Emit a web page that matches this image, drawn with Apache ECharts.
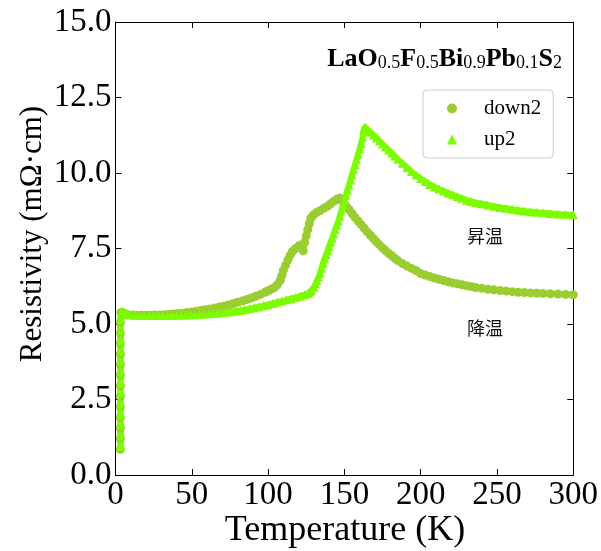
<!DOCTYPE html>
<html>
<head>
<meta charset="utf-8">
<script src="https://cdn.jsdelivr.net/npm/echarts@6/dist/echarts.min.js"></script>
<style>
  html, body { margin: 0; padding: 0; background: #fff; }
  #chart { width: 601px; height: 551px; }
</style>
</head>
<body>
<div id="chart"></div>
<script>
// cooling run (circles), [T (K), rho (mOhm cm)]
const down2 = [
  [3.2, 0.85], [3.2, 1.2], [3.2, 1.55], [3.2, 1.9], [3.2, 2.25], [3.2, 2.6], [3.2, 2.95],
  [3.2, 3.3], [3.2, 3.65], [3.2, 4.0], [3.2, 4.35], [3.2, 4.7], [3.2, 5.05],
  [3.6, 5.38], [4.5, 5.38], [6, 5.34], [8, 5.31], [11, 5.3], [14, 5.29], [17, 5.29], [20, 5.29],
  [23, 5.29], [26, 5.3], [29, 5.3], [32, 5.31], [35, 5.32], [38, 5.33], [41, 5.35], [44, 5.36],
  [47, 5.38], [50, 5.4], [53, 5.42], [56, 5.45], [59, 5.47], [62, 5.5], [65, 5.53], [68, 5.56],
  [71, 5.59], [74, 5.63], [77, 5.67], [80, 5.72], [83, 5.76], [86, 5.81], [89, 5.86], [92, 5.92],
  [95, 5.98], [98, 6.05], [100, 6.1], [102, 6.15], [104, 6.2], [106, 6.3], [108, 6.45], [109, 6.6],
  [110, 6.78], [111.5, 6.95], [113, 7.12], [114.5, 7.28], [116, 7.4], [118, 7.5], [120, 7.58],
  [121.5, 7.62], [123, 7.42], [124, 7.7], [125, 7.92], [126, 8.12], [127, 8.32], [128, 8.5],
  [129.5, 8.6], [131.5, 8.68], [134, 8.75], [136.5, 8.83], [139, 8.9], [141, 8.98], [143, 9.06],
  [145, 9.13], [147, 9.17], [149, 9.05], [151, 8.92], [153, 8.79], [155, 8.66], [157, 8.53],
  [159, 8.41], [161, 8.29], [163, 8.17], [165, 8.05], [167, 7.94], [169, 7.83], [171, 7.72],
  [173, 7.62], [175, 7.52], [177, 7.43], [179, 7.34], [181, 7.26], [183, 7.18], [185, 7.1],
  [188, 7.0], [191, 6.92], [194, 6.84], [197, 6.77], [200, 6.67], [203, 6.62], [206, 6.57],
  [209, 6.52], [212, 6.48], [215, 6.44], [218, 6.4], [221, 6.36], [224, 6.33], [227, 6.3],
  [230, 6.27], [233, 6.24], [236, 6.21], [240, 6.18], [244, 6.15], [248, 6.13], [252, 6.11],
  [256, 6.09], [260, 6.07], [264, 6.05], [268, 6.04], [272, 6.03], [276, 6.02], [280, 6.01],
  [285, 6.0], [290, 5.99], [295, 5.98], [300, 5.97]
];

// warming run (triangles)
const up2 = [
  [3.4, 0.95], [3.4, 1.3], [3.4, 1.65], [3.4, 2.0], [3.4, 2.35], [3.4, 2.7], [3.4, 3.05],
  [3.4, 3.4], [3.4, 3.75], [3.4, 4.1], [3.4, 4.45], [3.4, 4.8], [3.4, 5.15],
  [3.8, 5.4], [5, 5.42], [6.5, 5.36], [8, 5.32], [10, 5.3], [13, 5.29], [16, 5.28], [19, 5.28],
  [22, 5.28], [25, 5.28], [28, 5.28], [31, 5.28], [34, 5.28], [37, 5.29], [40, 5.29], [43, 5.3],
  [46, 5.3], [49, 5.31], [52, 5.31], [55, 5.32], [58, 5.33], [61, 5.34], [64, 5.35], [67, 5.36],
  [70, 5.37], [73, 5.39], [76, 5.41], [79, 5.43], [82, 5.45], [85, 5.48], [88, 5.51], [91, 5.54],
  [94, 5.57], [97, 5.61], [100, 5.64], [103, 5.68], [106, 5.72], [109, 5.76], [112, 5.8],
  [115, 5.84], [118, 5.88], [121, 5.92], [124, 5.97], [126, 6.01], [127.5, 6.06], [128.5, 6.12],
  [130, 6.22], [131, 6.33], [132, 6.44], [133, 6.55], [134, 6.68], [135, 6.85], [136, 7.01],
  [137, 7.17], [138, 7.3], [139, 7.43], [140, 7.57], [141, 7.71], [142, 7.85], [143, 7.99],
  [144, 8.13], [145, 8.27], [146, 8.41], [147, 8.57], [148, 8.75], [149, 8.92], [150, 9.09],
  [151, 9.26], [152, 9.43], [153, 9.6], [154, 9.77], [155, 9.94], [156, 10.11], [157, 10.28],
  [158, 10.45], [159, 10.62], [160, 10.8], [161, 10.98], [162, 11.18], [162.6, 11.4],
  [163.2, 11.52], [164, 11.5], [165.5, 11.43], [167, 11.36], [169, 11.26], [171, 11.16],
  [173, 11.06], [175, 10.96], [177, 10.86], [179, 10.76], [181, 10.66], [183, 10.56],
  [185, 10.46], [188, 10.32], [191, 10.18], [194, 10.05], [197, 9.93], [200, 9.82], [203, 9.72],
  [206, 9.62], [209, 9.54], [212, 9.47], [215, 9.4], [218, 9.34], [221, 9.28], [224, 9.22],
  [227, 9.16], [230, 9.1], [233, 9.06], [236, 9.02], [240, 8.98], [244, 8.94], [248, 8.9],
  [252, 8.86], [256, 8.83], [260, 8.8], [264, 8.77], [268, 8.74], [272, 8.72], [276, 8.7],
  [280, 8.68], [285, 8.66], [290, 8.64], [295, 8.63], [300, 8.62]
];

const xRange = [0, 300];
const yRange = [0, 15];
const xStep = 50;
const yStep = 2.5;

const serif = 'Liberation Serif';
const chart = echarts.init(document.getElementById('chart'), null, { renderer: 'canvas' });

const axisBase = {
  axisLine: { show: true, onZero: false, lineStyle: { color: '#000', width: 1 } },
  axisTick: { show: true, inside: true, length: 6, lineStyle: { color: '#000', width: 1 } },
  splitLine: { show: false }
};

// markers sit on a thick line of the same colour so the dense runs read as a band
function run(name, data, symbol, color) {
  return {
    name, type: 'line', data, xAxisIndex: 0, yAxisIndex: 0,
    symbol, symbolSize: 9, showSymbol: true, showAllSymbol: true,
    lineStyle: { color, width: 6 },
    itemStyle: { color, opacity: 1 },
    silent: true
  };
}

chart.setOption({
  animation: false,
  backgroundColor: '#fff',
  grid: { left: 115.5, right: 24, top: 22, bottom: 76 },
  xAxis: [
    Object.assign({
      type: 'value', position: 'bottom', min: xRange[0], max: xRange[1], interval: xStep,
      axisLabel: { color: '#000', fontFamily: serif, fontSize: 33, margin: 4 }
    }, axisBase),
    Object.assign({
      type: 'value', position: 'top', min: xRange[0], max: xRange[1], interval: xStep,
      axisLabel: { show: false }
    }, axisBase)
  ],
  yAxis: [
    Object.assign({
      type: 'value', position: 'left', min: yRange[0], max: yRange[1], interval: yStep,
      axisLabel: {
        color: '#000', fontFamily: serif, fontSize: 33, margin: 4,
        formatter: v => v.toFixed(1)
      }
    }, axisBase),
    Object.assign({
      type: 'value', position: 'right', min: yRange[0], max: yRange[1], interval: yStep,
      axisLabel: { show: false }
    }, axisBase)
  ],
  legend: {
    orient: 'vertical',
    left: 423, top: 90,
    padding: [8, 12, 8, 24],
    itemWidth: 10, itemHeight: 10, itemGap: 10,
    borderColor: '#cccccc', borderWidth: 1, borderRadius: 4,
    backgroundColor: 'rgba(255,255,255,0.8)',
    textStyle: { fontFamily: serif, fontSize: 21, color: '#000', lineHeight: 20, padding: [0, 0, 0, 22] },
    data: [{ name: 'down2', icon: 'circle' }, { name: 'up2', icon: 'triangle' }]
  },
  graphic: [
    {
      type: 'text', right: 39, top: 46,
      style: {
        text: '{b|LaO}{s|0.5}{b|F}{s|0.5}{b|Bi}{s|0.9}{b|Pb}{s|0.1}{b|S}{s|2}',
        rich: {
          b: { fontFamily: serif, fontWeight: 'bold', fontSize: 26, lineHeight: 30, verticalAlign: 'bottom', fill: '#000' },
          s: { fontFamily: serif, fontSize: 18, lineHeight: 12, verticalAlign: 'bottom', fill: '#000' }
        }
      }
    },
    {
      type: 'text', x: 485, y: 236,
      style: { text: '昇温', font: '18px "Noto Sans CJK JP"', fill: '#111', align: 'center', verticalAlign: 'middle' }
    },
    {
      type: 'text', x: 485, y: 328,
      style: { text: '降温', font: '18px "Noto Sans CJK JP"', fill: '#111', align: 'center', verticalAlign: 'middle' }
    },
    {
      type: 'text', x: 345, y: 531,
      style: { text: 'Temperature (K)', font: '36px "Liberation Serif"', fill: '#000', align: 'center', verticalAlign: 'middle' }
    },
    {
      type: 'text', x: 33, y: 234, rotation: Math.PI / 2,
      style: { text: 'Resistivity (mΩ·cm)', font: '31px "Liberation Serif"', fill: '#000', align: 'center', verticalAlign: 'middle' }
    }
  ],
  series: [
    run('down2', down2, 'circle', '#9ACD32'),
    run('up2', up2, 'triangle', '#7CFC00')
  ]
});
</script>
</body>
</html>
